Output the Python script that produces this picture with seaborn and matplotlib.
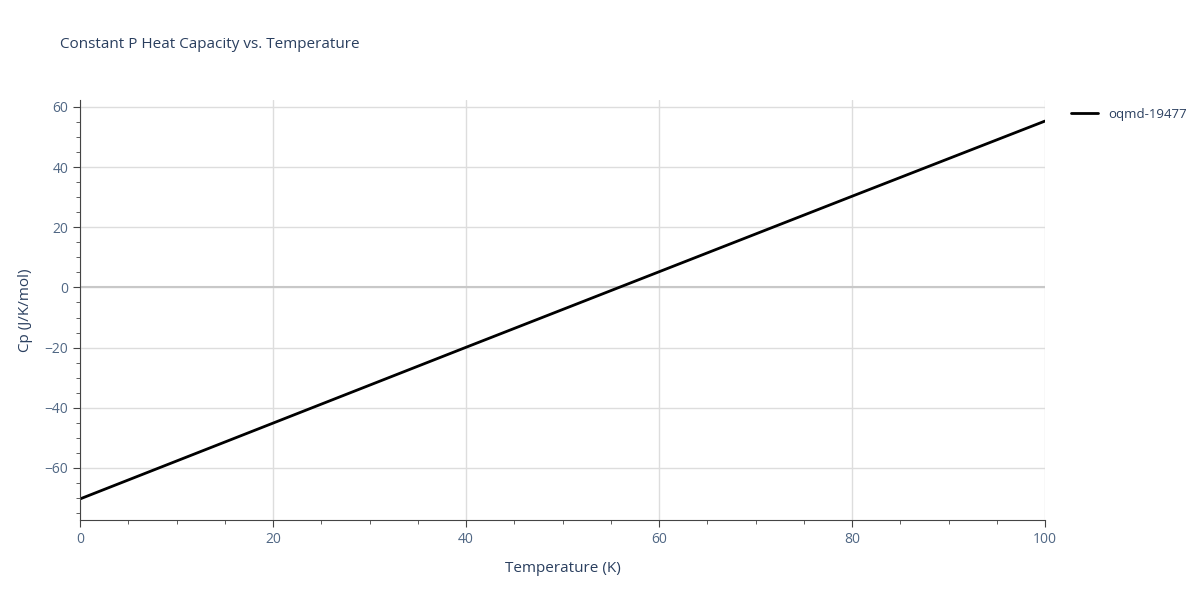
import matplotlib
matplotlib.use("Agg")
import matplotlib.pyplot as plt
import seaborn as sns
import pandas as pd
from matplotlib.ticker import MultipleLocator

temperature = [0, 20, 40, 60, 80, 100]
cp = [-70.3, -45.1, -19.9, 5.2, 30.3, 55.3]
series_name = "oqmd-19477"

sns.set_style("white")
plt.rcParams['font.family'] = ['Open Sans', 'DejaVu Sans']
text_col = "#2a3f5f"
tick_col = "#506784"

df = pd.DataFrame({"T": temperature, "Cp": cp})

fig = plt.figure(figsize=(12, 6), dpi=100)
ax = fig.add_axes([80 / 1200, 80 / 600, 965 / 1200, 420 / 600])
sns.lineplot(data=df, x="T", y="Cp", color="black", linewidth=2, ax=ax, label=series_name)

ax.set_xlim(0, 100)
ax.set_ylim(-77.3, 62.3)
ax.xaxis.set_major_locator(MultipleLocator(20))
ax.xaxis.set_minor_locator(MultipleLocator(5))
ax.yaxis.set_major_locator(MultipleLocator(20))
ax.yaxis.set_minor_locator(MultipleLocator(5))
ax.grid(True, which="major", color="#dddddd", linewidth=1)
ax.axhline(0, color="#c8c8c8", linewidth=1.5, zorder=1)
for s in ["top", "right"]:
    ax.spines[s].set_visible(False)
for s in ["left", "bottom"]:
    ax.spines[s].set_color("#444444")
ax.tick_params(which="major", direction="out", length=5, color="#444444",
               labelcolor=tick_col, labelsize=10, left=True, bottom=True)
ax.tick_params(which="minor", direction="out", length=3, color="#444444",
               left=True, bottom=True)
ax.set_yticks([-60, -40, -20, 0, 20, 40, 60])
ax.set_yticklabels(["\u221260", "\u221240", "\u221220", "0", "20", "40", "60"])

ax.set_xlabel("Temperature (K)", color=text_col, fontsize=11, labelpad=10)
ax.set_ylabel("Cp (J/K/mol)", color=text_col, fontsize=11, labelpad=8)
fig.text(60 / 1200, 1 - 45 / 600, "Constant P Heat Capacity vs. Temperature",
         color=text_col, fontsize=11, va="center")

ax.legend(loc="upper left", bbox_to_anchor=(1.015, 1.01), frameon=False,
          fontsize=9.5, labelcolor=text_col, handlelength=2)

fig.savefig("out.png", dpi=100)
